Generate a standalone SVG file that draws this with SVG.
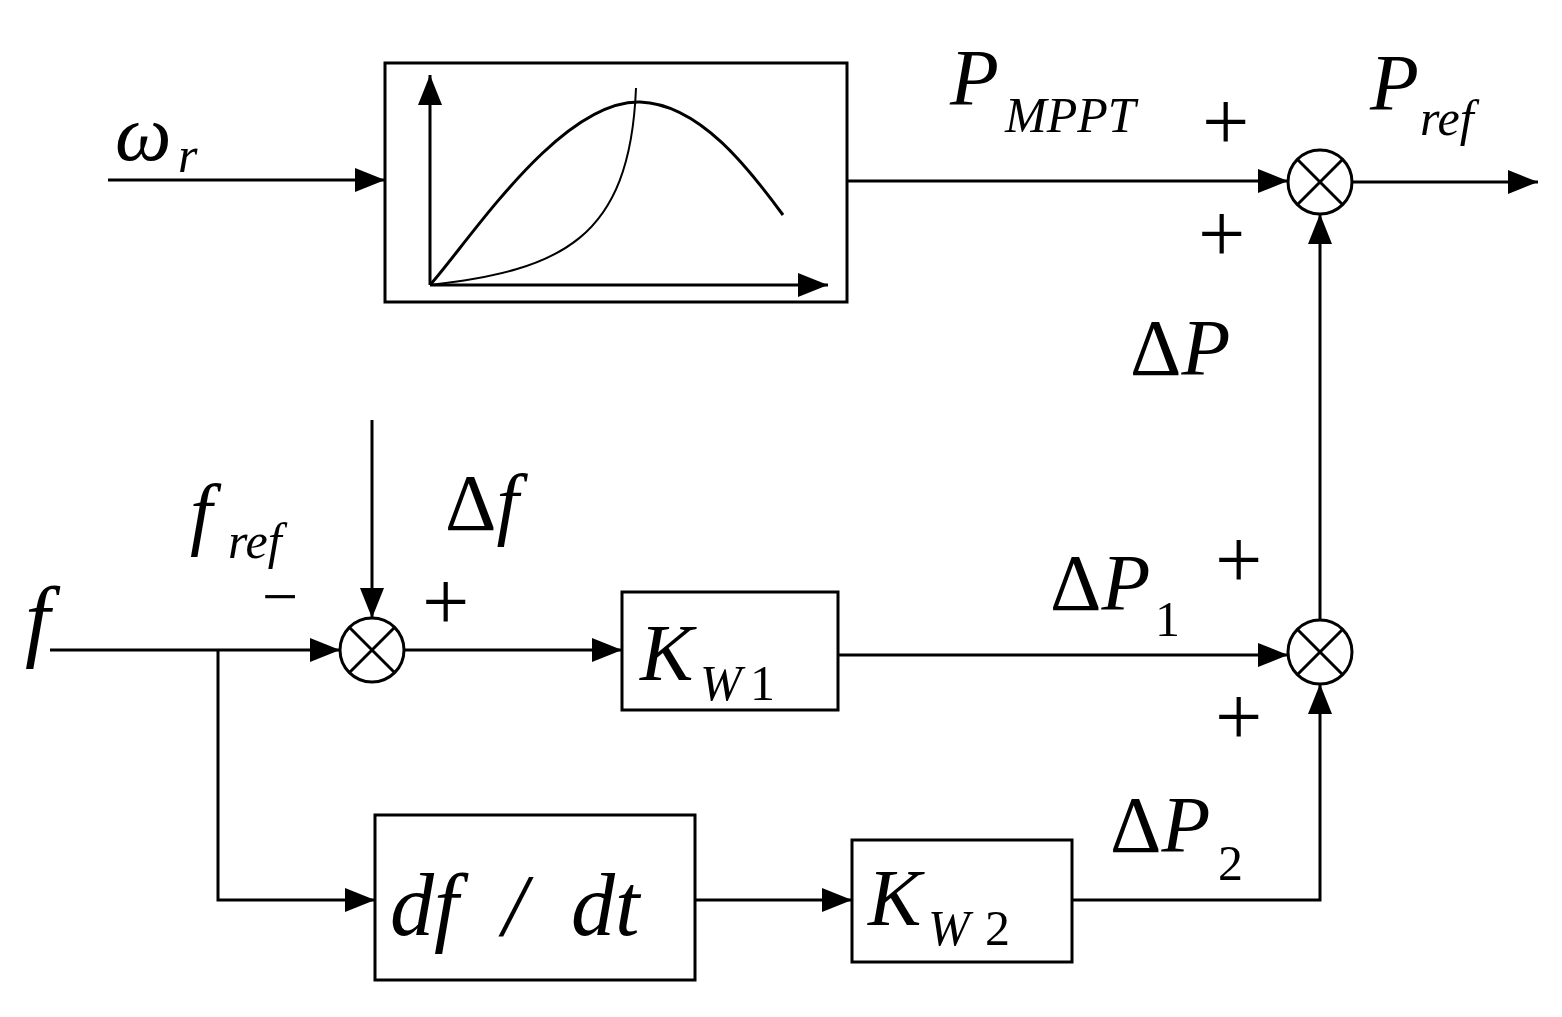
<svg xmlns="http://www.w3.org/2000/svg" width="1562" height="1017" viewBox="0 0 1562 1017">
<style>
.ln{stroke:#000;stroke-width:3;fill:none}
.bx{stroke:#000;stroke-width:3;fill:#fff}
.t{font-family:"Liberation Serif",serif;font-style:italic;fill:#000}
.u{font-family:"Liberation Serif",serif;fill:#000}
</style>
<defs>
<marker id="A" viewBox="0 0 30 24" markerWidth="30" markerHeight="24" refX="30" refY="12" orient="auto" markerUnits="userSpaceOnUse"><path d="M0,0L30,12L0,24z" fill="#000"/></marker>
</defs>
<rect width="1562" height="1017" fill="#fff"/>
<g id="connectors">
<line class="ln" x1="108" y1="180" x2="385" y2="180" marker-end="url(#A)"/>
<line class="ln" x1="847" y1="181" x2="1288" y2="181" marker-end="url(#A)"/>
<line class="ln" x1="1352" y1="182" x2="1538" y2="182" marker-end="url(#A)"/>
<line class="ln" x1="1320" y1="620" x2="1320" y2="214" marker-end="url(#A)"/>
<line class="ln" x1="50" y1="650" x2="340" y2="650" marker-end="url(#A)"/>
<line class="ln" x1="372" y1="420" x2="372" y2="618" marker-end="url(#A)"/>
<line class="ln" x1="404" y1="650" x2="622" y2="650" marker-end="url(#A)"/>
<line class="ln" x1="838" y1="655" x2="1288" y2="655" marker-end="url(#A)"/>
<polyline class="ln" points="218,650 218,900 375,900" marker-end="url(#A)"/>
<line class="ln" x1="695" y1="900" x2="852" y2="900" marker-end="url(#A)"/>
<polyline class="ln" points="1072,900 1320,900 1320,684" marker-end="url(#A)"/>
</g>
<g id="mppt">
<rect class="bx" x="385" y="63" width="462" height="239"/>
<line class="ln" x1="430" y1="285" x2="430" y2="75" marker-end="url(#A)"/>
<line class="ln" x1="430" y1="285" x2="828" y2="285" marker-end="url(#A)"/>
<path class="ln" d="M430,285 C470,240 560,100 640,102 C700,104 750,170 783,215"/>
<path d="M430,285 C560,270 630,240 636,88" stroke="#000" stroke-width="2" fill="none"/>
</g>
<g id="sum1"><circle class="bx" cx="1320" cy="182" r="32"/><path class="ln" d="M1297,159L1343,205M1343,159L1297,205"/></g>
<g id="sum2"><circle class="bx" cx="1320" cy="652" r="32"/><path class="ln" d="M1297,629L1343,675M1343,629L1297,675"/></g>
<g id="sum3"><circle class="bx" cx="372" cy="650" r="32"/><path class="ln" d="M349,627L395,673M395,627L349,673"/></g>
<g id="kw1"><rect class="bx" x="622" y="592" width="216" height="118"/>
<text class="t" x="640" y="680" font-size="80">K</text><text class="t" x="700" y="700" font-size="50">W</text><text class="u" x="750" y="700" font-size="50">1</text></g>
<g id="dfdt"><rect class="bx" x="375" y="815" width="320" height="165"/>
<text class="t" x="390" y="935" font-size="88" xml:space="preserve">df  /  dt</text></g>
<g id="kw2"><rect class="bx" x="852" y="840" width="220" height="122"/>
<text class="t" x="868" y="925" font-size="80">K</text><text class="t" x="928" y="945" font-size="50">W</text><text class="u" x="985" y="945" font-size="50">2</text></g>
<g id="labels">
<text class="t" x="115" y="160" font-size="80">ω</text><text class="t" x="178" y="172" font-size="50">r</text>
<text class="t" x="950" y="105" font-size="80">P</text><text class="t" x="1005" y="132" font-size="50">MPPT</text>
<text class="u" x="1202" y="150" font-size="84">+</text>
<text class="u" x="1198" y="262" font-size="84">+</text>
<text class="t" x="1370" y="110" font-size="80">P</text><text class="t" x="1420" y="135" font-size="50">ref</text>
<text class="t" x="1130" y="375" font-size="80"><tspan font-style="normal">Δ</tspan>P</text>
<text class="t" x="25" y="650" font-size="90">f</text>
<text class="t" x="190" y="540" font-size="80">f</text><text class="t" x="228" y="558" font-size="50">ref</text>
<text class="u" x="262" y="618" font-size="64">−</text>
<text class="t" x="445" y="530" font-size="80"><tspan font-style="normal">Δ</tspan>f</text>
<text class="u" x="422" y="630" font-size="84">+</text>
<text class="t" x="1050" y="610" font-size="80"><tspan font-style="normal">Δ</tspan>P</text><text class="u" x="1155" y="636" font-size="50">1</text>
<text class="u" x="1215" y="588" font-size="84">+</text>
<text class="u" x="1215" y="745" font-size="84">+</text>
<text class="t" x="1110" y="852" font-size="80"><tspan font-style="normal">Δ</tspan>P</text><text class="u" x="1218" y="880" font-size="50">2</text>
</g>
</svg>
